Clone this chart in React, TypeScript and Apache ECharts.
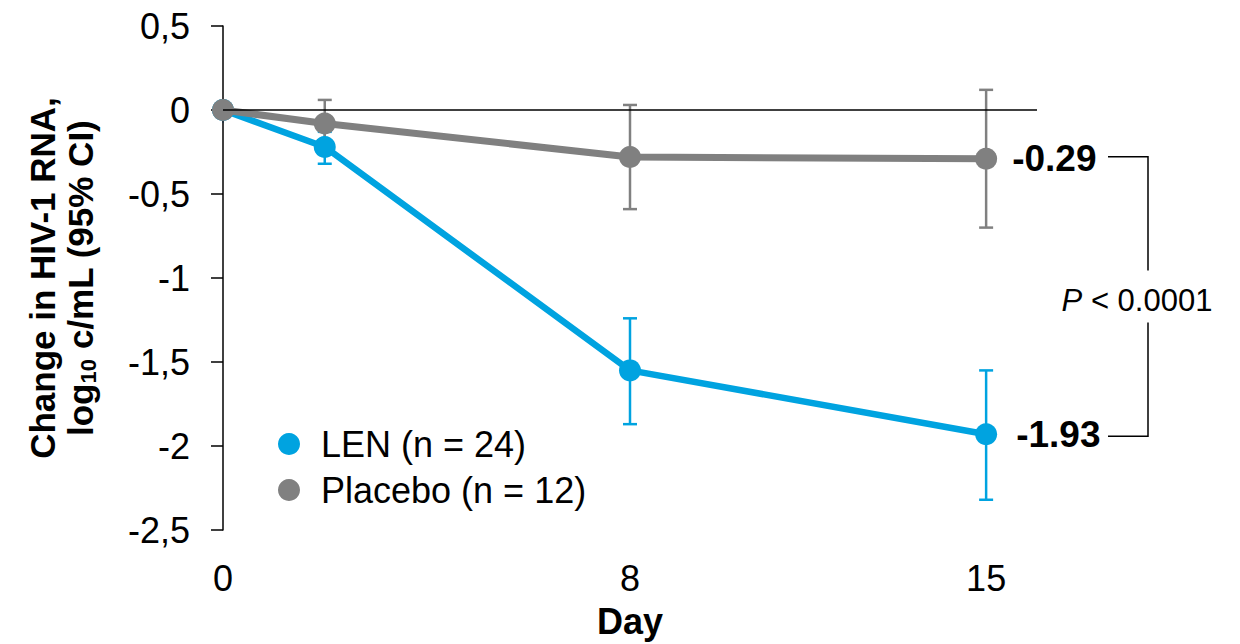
import React, { useEffect, useRef } from 'react';
import * as echarts from 'echarts';

const days = [0, 2, 8, 15];
const lenMean = [0, -0.22, -1.55, -1.93];
const lenLower = [0, -0.32, -1.87, -2.32];
const lenUpper = [0, -0.13, -1.24, -1.55];
const placeboMean = [0, -0.08, -0.28, -0.29];
const placeboLower = [0, -0.21, -0.59, -0.7];
const placeboUpper = [0, 0.06, 0.03, 0.12];
const xTicks = [0, 8, 15];
const yTicks = [0.5, 0, -0.5, -1, -1.5, -2, -2.5];
const lenName = 'LEN (n = 24)';
const placeboName = 'Placebo (n = 12)';
const lenEndLabel = '-1.93';
const placeboEndLabel = '-0.29';
const pValue = '0.0001';

const BLUE = '#00A3E0';
const GRAY = '#808080';
const FONT = '"Liberation Sans", Arial, sans-serif';

function errData(lo: number[], hi: number[]) {
  const out: number[][] = [];
  days.forEach((d, i) => {
    if (lo[i] !== hi[i]) out.push([d, lo[i], hi[i]]);
  });
  return out;
}

function errSeries(name: string, lo: number[], hi: number[], color: string) {
  return {
    type: 'custom',
    name: name + ' CI',
    silent: true,
    z: 1,
    data: errData(lo, hi),
    renderItem: (params: any, api: any) => {
      const x = api.value(0);
      const a = api.coord([x, api.value(1)]);
      const b = api.coord([x, api.value(2)]);
      const w = 7;
      const style = { stroke: color, lineWidth: 2.5 };
      return {
        type: 'group',
        children: [
          { type: 'line', shape: { x1: a[0], y1: a[1], x2: b[0], y2: b[1] }, style },
          { type: 'line', shape: { x1: a[0] - w, y1: a[1], x2: a[0] + w, y2: a[1] }, style },
          { type: 'line', shape: { x1: b[0] - w, y1: b[1], x2: b[0] + w, y2: b[1] }, style },
        ],
      };
    },
  };
}

export default function App() {
  const ref = useRef<HTMLDivElement>(null);
  useEffect(() => {
    if (!ref.current) return;
    const chart = echarts.init(ref.current, undefined, { renderer: 'svg' });
    const option: any = {
      animation: false,
      backgroundColor: '#fff',
      textStyle: { fontFamily: FONT },
      grid: { left: 223, right: 203, top: 26, bottom: 114 },
      legend: {
        left: 273,
        top: 421,
        orient: 'vertical',
        icon: 'circle',
        itemWidth: 54,
        itemHeight: 22,
        itemGap: 10,
        selectedMode: false,
        textStyle: { fontSize: 36, color: '#000', fontFamily: FONT },
        data: [lenName, placeboName],
      },
      xAxis: {
        type: 'value',
        min: 0,
        max: 16,
        offset: 4,
        splitLine: { show: false },
        axisLine: { show: false },
        axisTick: {
          show: true,
          length: 13,
          customValues: xTicks,
          lineStyle: { color: '#1f3442', width: 1.5 },
        },
        axisLabel: {
          customValues: xTicks,
          fontSize: 36,
          color: '#000',
          margin: 26,
          fontFamily: FONT,
        },
        name: 'Day',
        nameLocation: 'middle',
        nameGap: 69,
        nameTextStyle: { fontSize: 36, fontWeight: 'bold', color: '#000', fontFamily: FONT },
      },
      yAxis: {
        type: 'value',
        min: -2.5,
        max: 0.5,
        interval: 0.5,
        splitLine: { show: false },
        axisLine: { show: true, lineStyle: { color: '#000', width: 1.5 } },
        axisTick: { show: true, length: 12, lineStyle: { color: '#000', width: 1.5 } },
        axisLabel: {
          customValues: yTicks,
          fontSize: 36,
          color: '#000',
          margin: 33,
          fontFamily: FONT,
          formatter: (v: number) => String(v).replace('.', ','),
        },
        name: 'Change in HIV-1 RNA,\n{b|log}{s|10}{b| c/mL (95% CI)}',
        nameLocation: 'middle',
        nameGap: 124,
        nameTextStyle: {
          fontSize: 35,
          fontWeight: 'bold',
          color: '#000',
          lineHeight: 38,
          fontFamily: FONT,
          rich: {
            b: { fontSize: 35, fontWeight: 'bold', color: '#000', fontFamily: FONT, lineHeight: 38 },
            s: { fontSize: 22, fontWeight: 'bold', color: '#000', fontFamily: FONT, padding: [16, 0, 0, 0], lineHeight: 38 },
          },
        },
      },
      series: [
        errSeries(lenName, lenLower, lenUpper, BLUE),
        errSeries(placeboName, placeboLower, placeboUpper, GRAY),
        {
          type: 'line',
          name: lenName,
          z: 3,
          data: days.map((d, i) => [d, lenMean[i]]),
          symbol: 'circle',
          symbolSize: 22,
          itemStyle: { color: BLUE },
          lineStyle: { color: BLUE, width: 6.5 },
          endLabel: {
            show: true,
            formatter: () => lenEndLabel,
            fontSize: 37,
            fontWeight: 'bold',
            color: '#000',
            distance: 30,
            fontFamily: FONT,
          },
        },
        {
          type: 'line',
          name: placeboName,
          z: 4,
          data: days.map((d, i) => [d, placeboMean[i]]),
          symbol: 'circle',
          symbolSize: 22,
          itemStyle: { color: GRAY },
          lineStyle: { color: GRAY, width: 7 },
          endLabel: {
            show: true,
            formatter: () => placeboEndLabel,
            fontSize: 37,
            fontWeight: 'bold',
            color: '#000',
            distance: 26,
            fontFamily: FONT,
          },
          markLine: {
            silent: true,
            symbol: ['none', 'none'],
            label: { show: false },
            lineStyle: { color: '#000', width: 1.5, type: 'solid' },
            data: [{ yAxis: 0 }],
          },
        },
      ],
    };
    chart.setOption(option);

    const yTop = chart.convertToPixel({ gridIndex: 0 }, [15, placeboMean[3]])[1] - 2;
    const yBot = chart.convertToPixel({ gridIndex: 0 }, [15, lenMean[3]])[1] + 2;
    const mid = (yTop + yBot) / 2;
    const x1 = 1108;
    const x2 = 1148;
    const line = { stroke: '#000', lineWidth: 1.5 };
    chart.setOption({
      graphic: [
        { type: 'polyline', shape: { points: [[x1, yTop], [x2, yTop], [x2, mid - 26]] }, style: { ...line, fill: null } },
        { type: 'polyline', shape: { points: [[x2, mid + 26], [x2, yBot], [x1, yBot]] }, style: { ...line, fill: null } },
        {
          type: 'text',
          x: 1137,
          y: mid + 4,
          style: {
            text: '{i|P}{n| < ' + pValue + '}',
            align: 'center',
            verticalAlign: 'middle',
            rich: {
              i: { fontSize: 31, fontStyle: 'italic', fill: '#000', fontFamily: FONT },
              n: { fontSize: 31, fill: '#000', fontFamily: FONT },
            },
          },
        },
      ],
    });
    return () => chart.dispose();
  }, []);
  return <div ref={ref} style={{ position: 'fixed', left: 0, top: 0, width: 1240, height: 644 }} />;
}
